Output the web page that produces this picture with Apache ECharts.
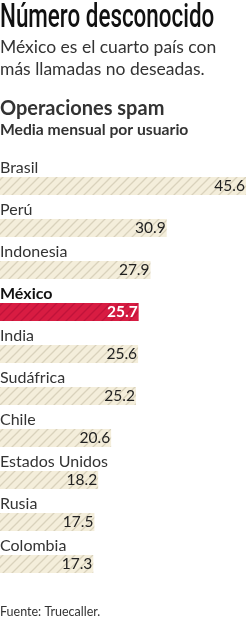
<!DOCTYPE html>
<html>
<head>
<meta charset="utf-8">
<script src="https://cdn.jsdelivr.net/npm/echarts@6/dist/echarts.min.js"></script>
<style>
  html, body { margin: 0; padding: 0; background: #fff; }
  #main { width: 248px; height: 620px; }
</style>
</head>
<body>
<div id="main"></div>
<script>
var countries = ['Brasil', 'Perú', 'Indonesia', 'México', 'India', 'Sudáfrica', 'Chile', 'Estados Unidos', 'Rusia', 'Colombia'];
var values = [45.6, 30.9, 27.9, 25.7, 25.6, 25.2, 20.6, 18.2, 17.5, 17.3];
var highlight = 'México';

function hatch(bg, line) {
    var s = 9;
    var c = document.createElement('canvas');
    c.width = s; c.height = s;
    var ctx = c.getContext('2d');
    ctx.fillStyle = bg;
    ctx.fillRect(0, 0, s, s);
    ctx.strokeStyle = line;
    ctx.lineWidth = 1.3;
    ctx.beginPath();
    ctx.moveTo(-1, s + 1); ctx.lineTo(s + 1, -1);
    ctx.moveTo(-1, 1); ctx.lineTo(1, -1);
    ctx.moveTo(s - 1, s + 1); ctx.lineTo(s + 1, s - 1);
    ctx.stroke();
    return { image: c, repeat: 'repeat' };
}

var beige = hatch('#f4eedb', '#d9d2bc');
var red = hatch('#d81c42', '#c0133a');

var myChart = echarts.init(document.getElementById('main'));
var font = 'Lato, "Open Sans", sans-serif';

var option = {
    animation: false,
    graphic: [
        {
            type: 'text', left: 0, top: 2, scaleX: 0.7, scaleY: 1.05,
            style: {
                text: 'Número desconocido',
                font: '500 32px Roboto, sans-serif',
                fill: '#111'
            }
        }
    ],
    title: [
        {
            text: 'México es el cuarto país con\nmás llamadas no deseadas.', left: 0, top: 36, padding: 0,
            textStyle: { fontFamily: font, fontSize: 17.5, fontWeight: 'normal', color: '#333', lineHeight: 22 }
        },
        {
            text: 'Operaciones spam', left: 0, top: 99, padding: 0,
            textStyle: { fontFamily: font, fontSize: 20, fontWeight: 'bold', color: '#333' }
        },
        {
            text: 'Media mensual por usuario', left: 0, top: 122, padding: 0,
            textStyle: { fontFamily: font, fontSize: 15.7, fontWeight: 'bold', color: '#333' }
        },
        {
            text: 'Fuente: Truecaller.', left: 0, top: 605, padding: 0,
            textStyle: { fontFamily: font, fontSize: 12.5, fontWeight: 'normal', color: '#333' }
        }
    ],
    grid: { left: 0, right: 2, top: 165, height: 420 },
    xAxis: { type: 'value', min: 0, max: 45.6, show: false },
    yAxis: { type: 'category', data: countries, inverse: true, show: false },
    series: [
        {
            type: 'bar',
            barWidth: 18,
            silent: true,
            data: values.map(function (v, i) {
                var hi = countries[i] === highlight;
                return {
                    value: v,
                    itemStyle: { color: hi ? red : beige },
                    label: hi ? { color: '#fff', fontWeight: 'bold' } : {}
                };
            }),
            label: {
                show: true, position: 'insideRight', distance: 1,
                fontFamily: font, fontSize: 15.5, color: '#222'
            }
        },
        {
            type: 'bar',
            barWidth: 18,
            barGap: '-100%',
            silent: true,
            itemStyle: { color: 'transparent' },
            data: values.map(function (v, i) {
                var hi = countries[i] === highlight;
                return {
                    value: v,
                    label: hi ? { fontWeight: 'bold', color: '#111' } : {}
                };
            }),
            label: {
                show: true, position: [0, -17],
                formatter: function (p) { return countries[p.dataIndex]; },
                fontFamily: font, fontSize: 16, color: '#333'
            }
        }
    ]
};
myChart.setOption(option);
</script>
</body>
</html>
